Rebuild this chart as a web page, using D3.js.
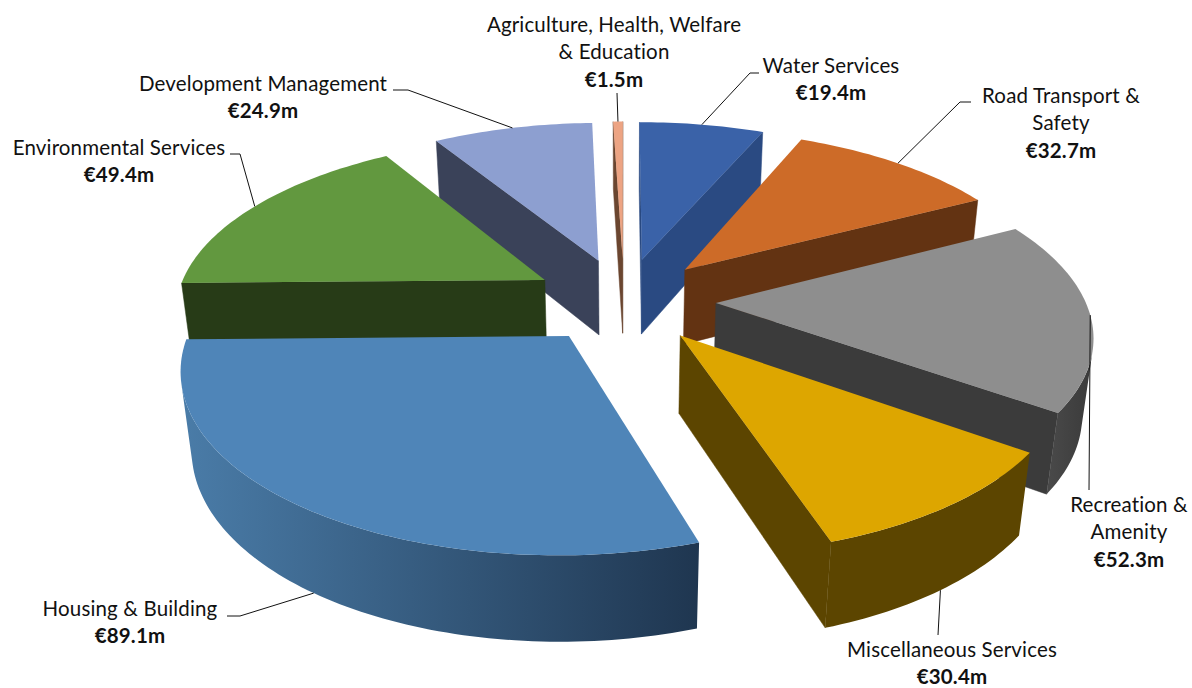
<!DOCTYPE html>
<html><head><meta charset="utf-8">
<script src="https://cdn.jsdelivr.net/npm/d3@7/dist/d3.min.js"></script>
<style>html,body{margin:0;background:#fff}svg{display:block}
text{font-family:Lato,"Open Sans",sans-serif;font-size:20.5px;letter-spacing:.15px;fill:#111}</style>
</head><body><svg id="c" width="1192" height="688"></svg>
<script>
const categories=["Water Services","Road Transport & Safety","Recreation & Amenity","Miscellaneous Services","Housing & Building","Environmental Services","Development Management","Agriculture, Health, Welfare & Education"];
const values=[19.4,32.7,52.3,30.4,89.1,49.4,24.9,1.5];
const valueLabels=["€19.4m","€32.7m","€52.3m","€30.4m","€89.1m","€49.4m","€24.9m","€1.5m"];
const labelLines=[["Water Services"],["Road Transport &","Safety"],["Recreation &","Amenity"],["Miscellaneous Services"],["Housing & Building"],["Environmental Services"],["Development Management"],["Agriculture, Health, Welfare","& Education"]];
const topColors=["#3A62A8","#CD6B28","#8E8E8E","#DDA600","#4F85B8","#62983F","#8D9FD0","#EDA483"];
const sideColors=["#2A4A82","#633312","#3B3B3B","#5C4500","#1F3650","#273B17","#3A4259","#6B4630"];
const arcStops=[["#2A4A82","#2A4A82"],["#633312","#633312"],["#4A4A4A","#3A3A3A"],["#5C4500","#5C4500"],["#4A7CA8","#1F3650"],["#273B17","#273B17"],["#3A4259","#3A4259"],["#6B4630","#6B4630"]];
const paintOrder=[6,7,0,1,5,2,3,4];
const labelCx=[831,1061,1129,952,130,119,263,614];
const labelBase=[73,103,512,656.5,616,155,91,32];
const leaderStart=[[[759,73],[750,73]],[[971,102],[960,102]],[[1089,490]],[[938,635]],[[227,616],[240,616]],[[230,154],[240,154]],[[393,90],[408,90]],[[617,93]]];
const leaderZ=[0,0,0,1,1,0,0,0];

const cx=624,cy=300,R=369,Q=171.4,k=0.16,m=0.024,D=78,explode=0.249;
const svg=d3.select("#c"),defs=svg.append("defs");
const slices=d3.pie().sort(null).value(d=>d)(values);
const project=(U,V,z)=>{const w=1+k*V+m*z;return[cx+R*U/w,cy+(-Q*V+D*z)/w]};
const line=d3.line();

paintOrder.forEach(i=>{
  const s=slices[i],mid=(s.startAngle+s.endAngle)/2;
  const U0=explode*Math.sin(mid),V0=explode*Math.cos(mid);
  const rim=(a,z)=>project(U0+Math.sin(a),V0+Math.cos(a),z);
  const n=Math.max(4,Math.ceil((s.endAngle-s.startAngle)/0.02));
  const angles=d3.range(n+1).map(j=>s.startAngle+(s.endAngle-s.startAngle)*j/n);
  const g=svg.append("g");
  const apex=z=>project(U0,V0,z);
  // radial walls: drawn when they turn toward the viewer
  [[s.startAngle,1],[s.endAngle,-1]].forEach(([a,dir])=>{
    const quad=[apex(0),rim(a,0),rim(a,1),apex(1)];
    const ar=d3.polygonArea(quad)*dir;
    if(ar>0) g.append("path").attr("d",line(quad)+"Z").attr("fill",sideColors[i]).attr("stroke",sideColors[i]).attr("stroke-width",.5);
  });
  // outer wall: the stretch of rim that faces the viewer
  const run=[];
  for(let j=0;j<n;j++){
    const q=[rim(angles[j],0),rim(angles[j+1],0),rim(angles[j+1],1),rim(angles[j],1)];
    if(d3.polygonArea(q)>0) run.push(j);
  }
  if(run.length){
    const idx=[run[0],...run.map(j=>j+1)];
    const poly=idx.map(j=>rim(angles[j],0)).concat(idx.map(j=>rim(angles[j],1)).reverse());
    const xs=poly.map(p=>p[0]);
    const id="wall"+i;
    const gr=defs.append("linearGradient").attr("id",id).attr("gradientUnits","userSpaceOnUse")
      .attr("x1",d3.min(xs)).attr("x2",d3.max(xs)).attr("y1",0).attr("y2",0);
    gr.append("stop").attr("offset",0).attr("stop-color",arcStops[i][0]);
    gr.append("stop").attr("offset",1).attr("stop-color",arcStops[i][1]);
    g.append("path").attr("d",line(poly)+"Z").attr("fill",`url(#${id})`);
  }
  // top face
  const top=[apex(0),...angles.map(a=>rim(a,0))];
  g.append("path").attr("d",line(top)+"Z").attr("fill",topColors[i]);
});

// leader lines and labels
slices.forEach((s,i)=>{
  const mid=(s.startAngle+s.endAngle)/2;
  const U=(explode+1)*Math.sin(mid),V=(explode+1)*Math.cos(mid);
  const end=project(U,V,leaderZ[i]);
  svg.append("path").attr("d",line([...leaderStart[i],end])).attr("fill","none").attr("stroke","#111").attr("stroke-width",1);
  const t=svg.append("g");
  const lh=27.3;
  labelLines[i].forEach((l,j)=>t.append("text").attr("x",labelCx[i]).attr("y",labelBase[i]+j*lh).attr("text-anchor","middle").text(l));
  t.append("text").attr("x",labelCx[i]).attr("y",labelBase[i]+labelLines[i].length*lh).attr("text-anchor","middle").style("font-weight",700).text(valueLabels[i]);
});
</script></body></html>
